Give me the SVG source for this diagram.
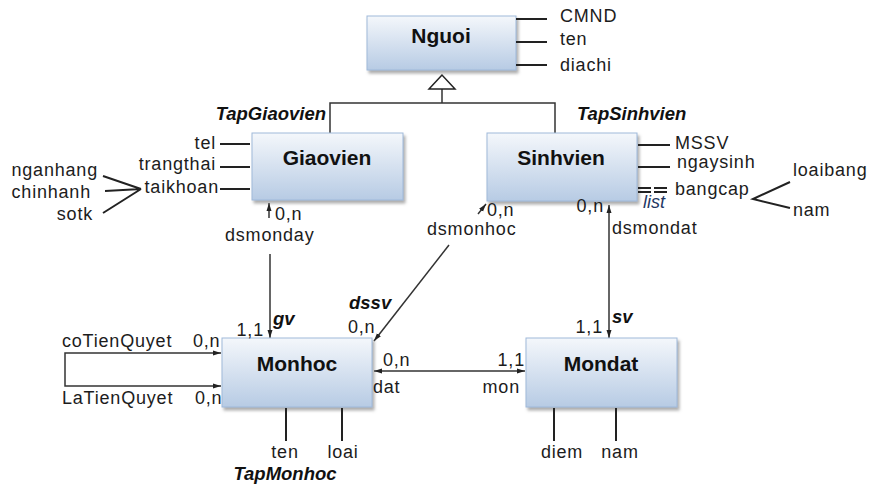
<svg xmlns="http://www.w3.org/2000/svg" width="870" height="485" viewBox="0 0 870 485">
<style>
.box{fill:url(#g);stroke:#9fb9da;stroke-width:1;filter:url(#sh)}
.title{font-family:"Liberation Sans",Arial,sans-serif;font-size:21px;font-weight:bold;fill:#111;text-anchor:middle}
.lb{font-family:"Liberation Sans",Arial,sans-serif;font-size:18px;letter-spacing:0.8px;fill:#1c1c1c}
.bi{font-family:"Liberation Sans",Arial,sans-serif;font-size:18.5px;font-weight:bold;font-style:italic;fill:#111}
.e{text-anchor:end}
.m{text-anchor:middle}
.ln{stroke:#222;stroke-width:2;fill:none}
.cn{stroke:#333;stroke-width:1.5;fill:none}
</style>
<defs>
<linearGradient id="g" x1="0" y1="0" x2="0" y2="1">
<stop offset="0" stop-color="#f4f7fb"/>
<stop offset="1" stop-color="#b7cbe4"/>
</linearGradient>
<filter id="sh" x="-10%" y="-10%" width="125%" height="130%">
<feDropShadow dx="2" dy="3" stdDeviation="1.5" flood-color="#777" flood-opacity="0.6"/>
</filter>
<marker id="a" markerWidth="9" markerHeight="7" refX="8" refY="3" orient="auto-start-reverse" markerUnits="userSpaceOnUse">
<path d="M0,0.5 L8,3 L0,5.5 z" fill="#222"/>
</marker>
</defs>

<g id="connectors">
<path class="cn" d="M442,89 V103 M330,133 V103 H555 V133"/>
<polygon points="442,75 429,89 455,89" fill="#fff" stroke="#222" stroke-width="1.5"/>
<line class="cn" x1="269" y1="218" x2="269" y2="203" marker-end="url(#a)"/>
<line class="cn" x1="270" y1="254" x2="270" y2="338" marker-end="url(#a)"/>
<line class="cn" x1="478" y1="214" x2="486" y2="204" marker-end="url(#a)"/>
<line class="cn" x1="449" y1="245" x2="374" y2="341" marker-end="url(#a)"/>
<line class="cn" x1="609" y1="205" x2="609" y2="338" marker-start="url(#a)" marker-end="url(#a)"/>
<line class="cn" x1="374" y1="371" x2="525" y2="371" marker-start="url(#a)" marker-end="url(#a)"/>
<path class="cn" d="M221,353 H65 V386 H221" marker-start="url(#a)" marker-end="url(#a)"/>
</g>

<g id="Nguoi">
<rect class="box" x="367" y="16" width="149" height="54"/>
<text class="title" x="441" y="43">Nguoi</text>
<path class="ln" d="M516,19 H547 M516,42 H547 M516,65 H547"/>
<text class="lb" x="560" y="22">CMND</text>
<text class="lb" x="560" y="45">ten</text>
<text class="lb" x="560" y="71">diachi</text>
</g>

<g id="Giaovien">
<rect class="box" x="252" y="133" width="151" height="67"/>
<text class="title" x="327" y="165">Giaovien</text>
<text class="bi e" x="326" y="120">TapGiaovien</text>
<path class="ln" d="M220,144 H250 M220,167 H250 M220,189 H250"/>
<text class="lb e" x="216" y="149">tel</text>
<text class="lb e" x="216" y="170">trangthai</text>
<text class="lb e" x="219" y="193">taikhoan</text>
<path class="ln" stroke-width="1.5" d="M103,176 L141,189 M105,191 L141,189 M103,213 L141,189"/>
<text class="lb e" x="98" y="176">nganhang</text>
<text class="lb e" x="91" y="198">chinhanh</text>
<text class="lb e" x="93" y="220">sotk</text>
<text class="lb" x="275" y="220">0,n</text>
<text class="lb" x="225" y="241">dsmonday</text>
</g>

<g id="Sinhvien">
<rect class="box" x="487" y="133" width="150" height="68"/>
<text class="title" x="561" y="165">Sinhvien</text>
<text class="bi" x="577" y="120">TapSinhvien</text>
<path class="ln" d="M638,145 H670 M638,167 H670"/>
<path class="ln" stroke-width="1.5" stroke-dasharray="13 3" d="M638,188 H667 M638,192 H667"/>
<text class="lb" x="675" y="149">MSSV</text>
<text class="lb" x="677" y="168">ngaysinh</text>
<text class="lb" x="675" y="195">bangcap</text>
<text class="lb" x="643" y="208" style="font-style:italic;fill:#1f3864;letter-spacing:0">list</text>
<path class="ln" stroke-width="1.5" d="M790,182 L753,199 L790,208"/>
<text class="lb" x="793" y="176">loaibang</text>
<text class="lb" x="793" y="216">nam</text>
<text class="lb" x="487" y="216">0,n</text>
<text class="lb" x="427" y="235">dsmonhoc</text>
<text class="lb e" x="604" y="212">0,n</text>
<text class="lb" x="612" y="234">dsmondat</text>
</g>

<g id="Monhoc">
<rect class="box" x="222" y="338" width="150" height="69"/>
<text class="title" x="297" y="371">Monhoc</text>
<text class="bi" x="273" y="325">gv</text>
<text class="lb e" x="264" y="336">1,1</text>
<text class="bi" x="349" y="309">dssv</text>
<text class="lb" x="348" y="333">0,n</text>
<text class="lb" x="62" y="347">coTienQuyet</text>
<text class="lb" x="193" y="347">0,n</text>
<text class="lb" x="62" y="404">LaTienQuyet</text>
<text class="lb" x="195" y="404">0,n</text>
<text class="lb" x="383" y="366">0,n</text>
<text class="lb" x="373" y="393">dat</text>
<path class="ln" d="M286,408 V441 M342,408 V441"/>
<text class="lb m" x="285" y="458">ten</text>
<text class="lb m" x="343" y="458">loai</text>
<text class="bi m" x="285" y="480">TapMonhoc</text>
</g>

<g id="Mondat">
<rect class="box" x="526" y="338" width="151" height="69"/>
<text class="title" x="601" y="371">Mondat</text>
<text class="lb e" x="525" y="366">1,1</text>
<text class="lb e" x="520" y="393">mon</text>
<text class="lb e" x="603" y="333">1,1</text>
<text class="bi" x="612" y="323">sv</text>
<path class="ln" d="M554,408 V441 M616,408 V441"/>
<text class="lb m" x="562" y="458">diem</text>
<text class="lb m" x="620" y="458">nam</text>
</g>
</svg>
